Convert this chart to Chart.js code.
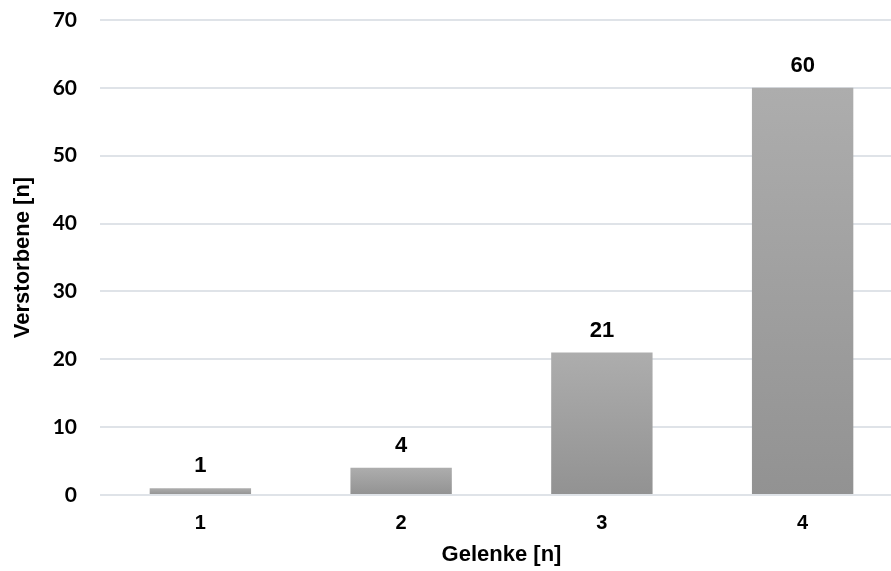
<!DOCTYPE html>
<html>
<head>
<meta charset="utf-8">
<script src="https://cdn.jsdelivr.net/npm/chart.js@4"></script>
<style>
  html, body { margin: 0; padding: 0; background: #fff; overflow: hidden; }
  #wrap { width: 903px; height: 571px; }
</style>
</head>
<body>
<div id="wrap"><canvas id="chart"></canvas></div>
<script>
// Verstorbene nach Anzahl betroffener Gelenke
const categories = ['1', '2', '3', '4'];
const deceased = [1, 4, 21, 60];
const yTicks = [0, 10, 20, 30, 40, 50, 60, 70];

const labelFont = 'Liberation Sans, Arial, sans-serif';

// per-bar vertical gradient, light at the top, darker at the base
function barGradient(ctx) {
    const chart = ctx.chart;
    const y = chart.scales.y;
    if (!y || ctx.raw === undefined) return '#a0a0a0';
    const top = y.getPixelForValue(ctx.raw);
    const base = y.getPixelForValue(0);
    if (!isFinite(top) || !isFinite(base) || top === base) return '#a6a6a6';
    const g = chart.ctx.createLinearGradient(0, top, 0, base);
    g.addColorStop(0, '#adadad');
    g.addColorStop(1, '#929292');
    return g;
}

// value labels above each bar
const valueLabels = {
    id: 'valueLabels',
    afterDatasetsDraw(chart) {
        const ctx = chart.ctx;
        const meta = chart.getDatasetMeta(0);
        ctx.save();
        ctx.font = 'bold 22px ' + labelFont;
        ctx.fillStyle = '#000';
        ctx.textAlign = 'center';
        ctx.textBaseline = 'alphabetic';
        meta.data.forEach((bar, i) => {
            ctx.fillText(String(deceased[i]), bar.x, bar.y - 16);
        });
        ctx.restore();
    }
};

new Chart(document.getElementById('chart'), {
    type: 'bar',
    data: {
        labels: categories,
        datasets: [{
            data: deceased,
            backgroundColor: barGradient,
            barPercentage: 0.505,
            categoryPercentage: 1
        }]
    },
    options: {
        responsive: true,
        maintainAspectRatio: false,
        animation: false,
        layout: { padding: { top: 20, bottom: 0, right: 0, left: 0 } },
        plugins: {
            legend: { display: false },
            tooltip: { enabled: false }
        },
        scales: {
            x: {
                afterFit(scale) { scale.height = 76; },
                grid: { display: false, drawTicks: false },
                border: { display: false },
                ticks: {
                    color: '#000',
                    padding: 16,
                    font: { family: labelFont, size: 20, weight: 'bold' }
                },
                title: {
                    display: true,
                    text: 'Gelenke [n]',
                    color: '#000',
                    padding: { top: 6, bottom: 3 },
                    font: { family: labelFont, size: 22, weight: 'bold' }
                }
            },
            y: {
                min: 0,
                max: 70,
                afterBuildTicks(scale) {
                    scale.ticks = yTicks.map(v => ({ value: v }));
                },
                afterFit(scale) {
                    scale.width = 100;
                    scale.paddingTop = 0;
                    scale.paddingBottom = 0;
                },
                grid: { color: '#dfe3e8', lineWidth: 2, drawTicks: false },
                border: { display: false },
                ticks: {
                    color: '#000',
                    padding: 23,
                    font: { family: 'Lato, Open Sans, sans-serif', size: 21, weight: 'bold' }
                },
                title: {
                    display: true,
                    text: 'Verstorbene [n]',
                    color: '#000',
                    padding: { top: 10, bottom: 4 },
                    font: { family: labelFont, size: 22, weight: 'bold' }
                }
            }
        }
    },
    plugins: [valueLabels]
});
</script>
</body>
</html>
